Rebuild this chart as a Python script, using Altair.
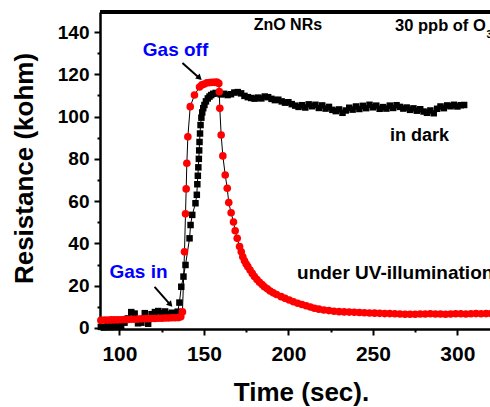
import altair as alt
import pandas as pd

# ---------------- data ----------------
# in dark (black squares)
dark_t = [89, 91, 93, 95, 97, 99, 101, 103, 105, 107, 109, 111, 113, 115, 117, 119, 121, 123, 125, 127, 129, 131, 133, 134.5,
          135.5, 136.6, 137.9, 139.1, 141.5, 142.1, 143.1, 145.0, 145.8, 146.1, 146.4, 146.7, 147.0, 147.2, 147.4, 147.7,
          148.0, 148.5, 149.0, 149.6, 150.3, 151.2, 152.3, 153.3, 154.3, 155.5, 157,
          158, 160, 162, 164, 166, 168, 170, 172, 174, 176, 178, 180, 182, 184, 186, 188, 190, 192, 194, 196, 198, 200,
          202, 204, 206, 208, 210, 212, 214, 216, 218, 220, 222, 224, 226, 228, 230, 232, 234, 236, 238, 240, 242, 244,
          246, 248, 250, 252, 254, 256, 258, 260, 262, 264, 266, 268, 270, 272, 274, 276, 278, 280, 282, 284, 286, 288,
          290, 292, 294, 296, 298, 300, 302, 304]
dark_r = [0.5, 0.3, 0.8, 0.4, 1.0, 0.5, 0.8, 2.5, 4.5, 7.5, 6.8, 2.2, 2.5, 7.0, 2.0, 6.5, 7.5, 8.0, 7.0, 7.8, 6.5, 7.2, 6.0, 7.7,
          12.0, 19.5, 24.3, 29.8, 42.4, 48.7, 53.5, 59.0, 63.0, 68.0, 72.0, 76.0, 80.0, 84.0, 88.0, 92.0,
          96.0, 99.5, 102.0, 104.0, 105.5, 107.2, 108.6, 109.5, 110.2, 110.8, 111.2,
          111.0, 110.5, 110.8, 110.2, 110.6, 111.4, 111.6, 111.0, 109.8, 109.2, 108.8, 108.5, 109.0, 108.6, 109.5, 109.2,
          108.4, 107.8, 108.0, 107.2, 106.6, 106.8, 105.9, 105.2, 104.6, 105.4, 104.3, 105.8, 104.9, 105.6, 104.1, 105.3,
          103.8, 104.6, 103.2, 102.6, 103.4, 101.8, 102.9, 104.2, 103.3, 104.8, 103.6, 105.1, 104.0, 105.6, 104.4, 105.2,
          103.7, 104.5, 103.8, 105.2, 104.1, 105.4, 104.6, 103.8, 104.3, 103.2, 103.9, 102.8, 103.5, 102.4, 101.8, 102.9,
          101.6, 103.7, 104.8, 104.0, 105.3, 104.9, 105.6, 104.8, 105.4, 105.5]

# under UV-illumination (red circles)
uv_t = [89, 91, 93, 95, 97, 99, 101, 103, 105, 107, 109, 111, 113, 115, 117, 119, 121, 123, 125, 127, 129, 131, 133, 135,
        136.3, 137.3, 138.5, 139.1, 139.5, 139.9, 140.5, 141.9, 144.4, 147.4, 148.8, 150.3, 151.8, 153.3, 154.8, 156.3,
        157.6, 158.8, 159.1, 159.4, 160.2, 161.2, 162.6, 163.8, 164.7, 166.1, 167.5, 168.5, 169.7, 171.1, 172.1, 173.0,
        174.0, 175.0, 176.0, 177.3, 178.6, 179.9, 181.4, 182.9, 184.4, 185.8, 187.5, 189.2, 191, 193, 195.7, 198, 200.5,
        203, 205.5, 208, 210.5, 213, 215.4, 218, 221, 224, 227, 230, 233, 236, 239, 242, 245, 248, 251, 254, 257, 260,
        263, 266, 269, 272, 275, 278, 281, 284, 287, 290, 293, 296, 299, 302, 305, 308, 311, 314, 317, 320]
uv_r = [3.6, 3.7, 3.7, 3.8, 3.8, 3.9, 3.9, 4.0, 4.0, 4.1, 4.1, 4.2, 4.3, 4.3, 4.4, 4.5, 4.5, 4.6, 4.6, 4.7, 4.7, 4.8, 4.8, 4.9,
        5.3, 7.6, 36.0, 54.0, 65.8, 77.9, 90.5, 104.7, 110.2, 114.0, 115.0, 115.4, 116.0, 116.1, 116.2, 116.2,
        116.3, 115.7, 111.8, 103.9, 91.3, 81.4, 72.4, 66.1, 59.3, 54.5, 50.1, 46.0, 42.4, 38.5, 36.0, 33.7,
        31.8, 30.2, 29.0, 27.4, 25.8, 24.3, 22.9, 21.6, 20.5, 19.5, 18.5, 17.5, 16.6, 15.8, 14.8, 14.0, 13.2,
        12.4, 11.7, 11.1, 10.5, 9.9, 9.3, 8.9, 8.5, 8.2, 7.9, 7.7, 7.6, 7.5, 7.4, 7.3, 7.2, 7.1, 7.0, 6.9, 6.8, 6.8,
        6.7, 6.6, 6.5, 6.5, 6.5, 6.6, 6.6, 6.7, 6.6, 6.6, 6.5, 6.6, 6.7, 6.7, 6.6, 6.7, 6.8, 6.7, 6.8, 6.8]

x_ticks = [100, 150, 200, 250, 300]
x_minor = [125, 175, 225, 275]
y_ticks = [0, 20, 40, 60, 80, 100, 120, 140]
y_minor = [10, 30, 50, 70, 90, 110, 130]

# annotations (data coordinates)
ann_text = ["ZnO NRs", "30 ppb of O", "3", "Gas off", "Gas in", "in dark", "under UV-illumination"]
ann_x = [199.7, 263.1, 317.2, 133.2, 111.3, 260.1, 205.1]
ann_y = [143.4, 142.9, 138.5, 131.6, 26.5, 90.9, 26.0]
ann_size = [16, 16.5, 10, 19, 19, 18, 19]
ann_color = ["black", "black", "black", "blue", "blue", "black", "black"]
ann_align = ["center", "left", "left", "center", "center", "left", "left"]

arrow_x = [137.3, 120.8]
arrow_y = [125.4, 19.4]
arrow_x2 = [147.6, 130.2]
arrow_y2 = [118.0, 10.9]
head_x = [147.0, 129.8]
head_y = [118.6, 11.4]
head_angle = [132, 138]

FONT = "Liberation Sans"
XDOM = [88.5, 319.3]
YDOM = [-0.5, 149.5]

dark = pd.DataFrame({"t": dark_t, "r": dark_r})
uv = pd.DataFrame({"t": uv_t, "r": uv_r})
ann = pd.DataFrame({"text": ann_text, "x": ann_x, "y": ann_y, "size": ann_size,
                    "color": ann_color, "align": ann_align})
arrows = pd.DataFrame({"x": arrow_x, "y": arrow_y, "x2": arrow_x2, "y2": arrow_y2,
                       "hx": head_x, "hy": head_y, "ang": head_angle})

xs = alt.Scale(domain=XDOM, nice=False, zero=False)
ys = alt.Scale(domain=YDOM, nice=False, zero=False)

x_main = alt.Axis(values=x_ticks, title="Time (sec).", orient="bottom", format="d",
                  labelFontSize=21, titleFontSize=26, labelPadding=8,
                  titleX=201, titleY=71, titleBaseline="alphabetic", titleAlign="center")
y_main = alt.Axis(values=y_ticks, title="Resistance (kohm)", orient="left", format="d",
                  labelFontSize=19, titleFontSize=26, labelPadding=5,
                  titleX=-68, titleY=156, titleBaseline="alphabetic", titleAlign="center", titleAngle=270)
x_min = alt.Axis(values=x_minor, title="", orient="bottom", labels=False, domain=False, tickSize=3)
y_min = alt.Axis(values=y_minor, title="", orient="left", labels=False, domain=False, tickSize=3)


def X(field, axis=None):
    return alt.X(field, scale=xs, axis=axis)


def Y(field, axis=None):
    return alt.Y(field, scale=ys, axis=axis)


dark_line = alt.Chart(dark).mark_line(color="black", strokeWidth=1).encode(
    x=X("t:Q", x_main), y=Y("r:Q", y_main))
dark_pts = alt.Chart(dark).mark_point(shape="square", filled=True, color="black", size=42, opacity=1).encode(
    x=X("t:Q", x_min), y=Y("r:Q", y_min))
uv_line = alt.Chart(uv).mark_line(color="black", strokeWidth=1).encode(x=X("t:Q"), y=Y("r:Q"))
uv_pts = alt.Chart(uv).mark_point(shape="circle", filled=True, color="#ff0000", size=58, opacity=1).encode(
    x=X("t:Q"), y=Y("r:Q"))


def text_layer(align):
    sub = ann[ann["align"] == align]
    return alt.Chart(sub).mark_text(font=FONT, fontWeight="bold", baseline="middle", align=align).encode(
        x=X("x:Q"), y=Y("y:Q"), text="text:N",
        size=alt.Size("size:Q", scale=None, legend=None),
        color=alt.Color("color:N", scale=None, legend=None))


texts_c = text_layer("center")
texts_l = text_layer("left")

arrow_lines = alt.Chart(arrows).mark_rule(color="black", strokeWidth=2).encode(
    x=X("x:Q"), y=Y("y:Q"), x2="x2:Q", y2="y2:Q")
arrow_heads = alt.Chart(arrows).mark_point(shape="triangle", filled=True, color="black", size=45, opacity=1).encode(
    x=X("hx:Q"), y=Y("hy:Q"), angle=alt.Angle("ang:Q", scale=None))

top_border = alt.Chart(dark).mark_rule(color="black", strokeWidth=2.5).encode(
    x=alt.value(0), x2=alt.value(390), y=alt.value(0))

chart = alt.layer(
    dark_line, dark_pts, uv_line, uv_pts, texts_c, texts_l, arrow_lines, arrow_heads, top_border
).resolve_axis(x="independent", y="independent").properties(
    width=390, height=317,
    autosize=alt.AutoSizeParams(type="none"),
    padding={"left": 100, "top": 12, "right": 0, "bottom": 78},
    background="white",
).configure_view(stroke=None).configure_axis(
    grid=False, domainColor="black", domainWidth=2.5, tickColor="black", tickWidth=2, tickSize=6,
    labelFont=FONT, labelFontWeight="bold", labelColor="black",
    titleFont=FONT, titleFontWeight="bold", titleColor="black",
)

chart.save("out.html", embed_options={"renderer": "svg", "actions": False})
